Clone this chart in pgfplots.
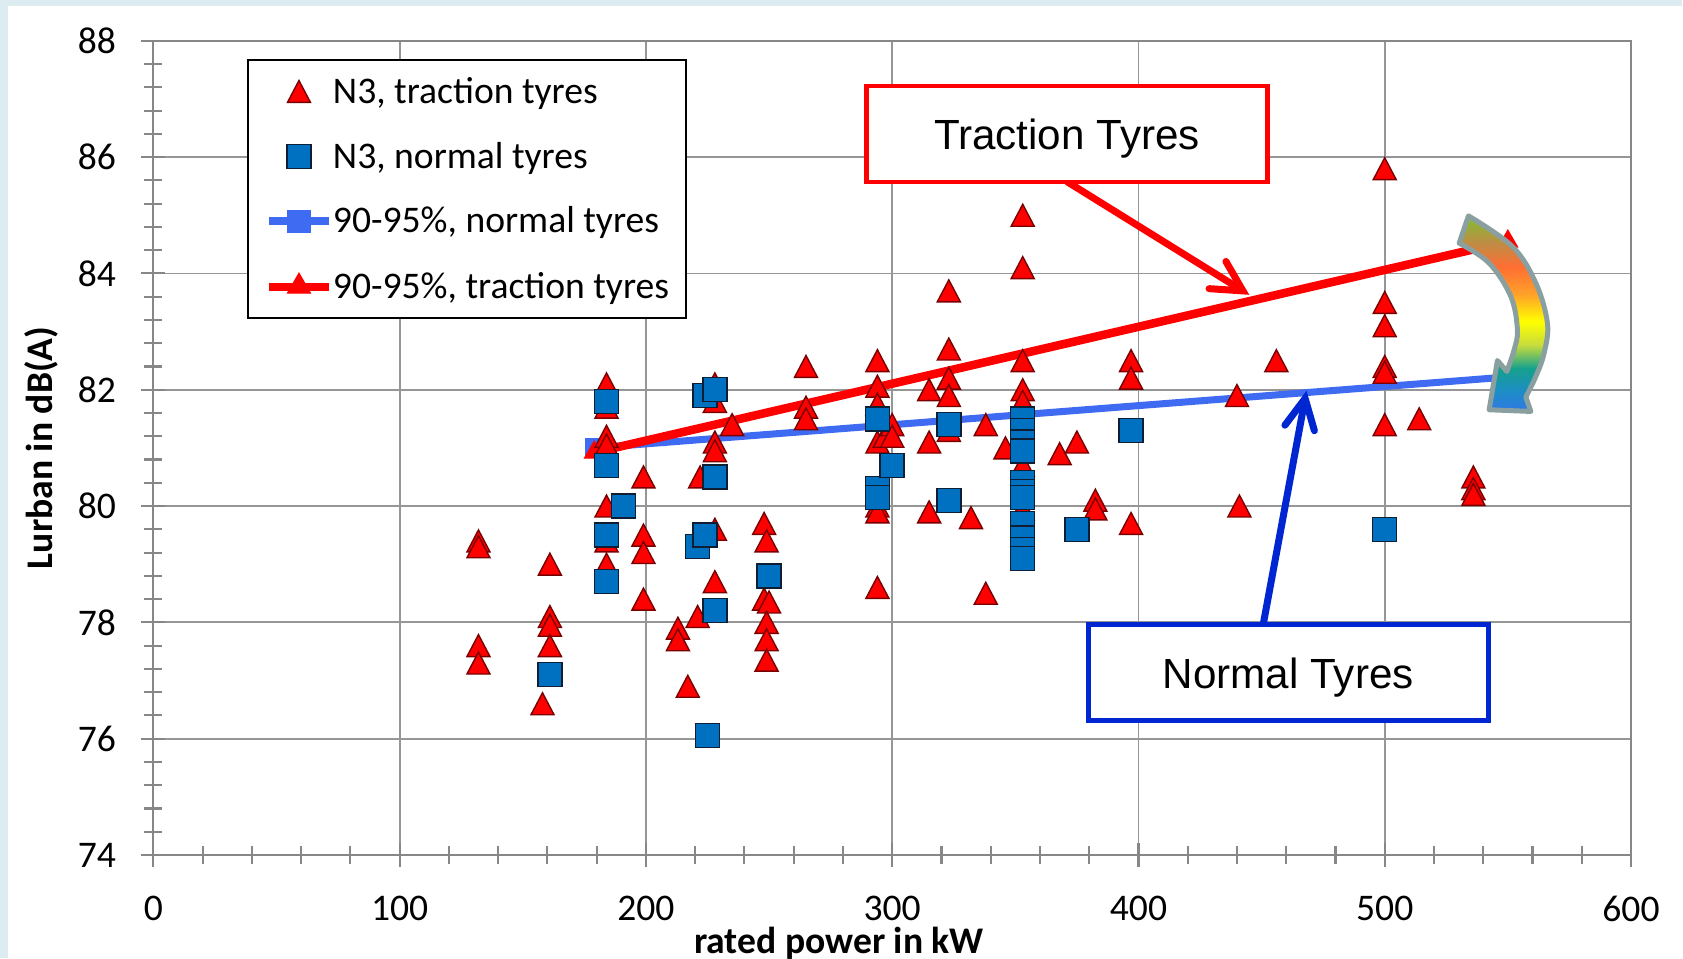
\documentclass[border=0pt]{standalone}
\usepackage{fontspec}
\setmainfont{Carlito}
\newfontfamily\arialf{Liberation Sans}
\usepackage{pgfplots}
\pgfplotsset{compat=1.18}
\usetikzlibrary{arrows.meta}

\definecolor{trfill}{RGB}{255,0,0}
\definecolor{trdraw}{RGB}{120,0,0}
\definecolor{nofill}{RGB}{0,112,192}
\definecolor{nodraw}{RGB}{15,30,50}
\definecolor{bline}{RGB}{62,107,242}
\definecolor{gridc}{RGB}{150,150,150}
\definecolor{axc}{RGB}{135,135,135}
\definecolor{annblue}{RGB}{0,38,210}
\definecolor{arrowedge}{RGB}{138,160,160}
\definecolor{bgband}{RGB}{220,236,241}

\pgfdeclareverticalshading{arrowgrad}{100bp}{
rgb(0bp)=(0.196,0.47,0.9);
rgb(25bp)=(0.196,0.47,0.9);
rgb(30bp)=(0.118,0.55,0.78);
rgb(36bp)=(0.08,0.63,0.55);
rgb(42bp)=(0.78,0.86,0.24);
rgb(48bp)=(1,1,0);
rgb(55bp)=(1,0.63,0.16);
rgb(62bp)=(1,0.43,0.2);
rgb(68bp)=(0.75,0.55,0.27);
rgb(75bp)=(0.5,0.75,0.19);
rgb(100bp)=(0.5,0.75,0.19)}

\newcommand\tf{\fontsize{10.7pt}{12.8pt}\selectfont}

\begin{document}
\begin{tikzpicture}
\path[use as bounding box, fill=white] (-1.534cm,-1.04cm) rectangle (15.296cm,8.55cm);
\begin{scope}[x=0.01cm,y=-0.01cm,shift={(-1.534cm,8.55cm)}]
 \fill[bgband] (0,0) rectangle (1683,6);
 \fill[bgband] (0,0) rectangle (8,959);
\end{scope}

\begin{axis}[
  scale only axis, width=14.776cm, height=8.142cm,
  at={(0,0)}, anchor=south west,
  xmin=0, xmax=600, ymin=74, ymax=88,
  xtick={0,100,...,600}, ytick={74,76,...,88},
  minor x tick num=4, minor y tick num=4,
  tick pos=left,
  xmajorgrids, ymajorgrids,
  major grid style={draw=gridc, line width=0.5pt},
  axis line style={draw=axc, line width=0.6pt},
  tick style={draw=axc, line width=0.6pt},
  tick align=center,
  major tick length=0.24cm, minor tick length=0.18cm,
  ticklabel style={font=\tf, text=black},
  /pgf/number format/assume math mode=true,
  xticklabel shift=0.17cm, yticklabel shift=0.13cm,
  xlabel={rated power in kW}, ylabel={Lurban in dB(A)},
  xlabel style={font=\tf\bfseries, inner sep=0pt, at={(axis description cs:0.464,-0.1085)}, anchor=center},
  ylabel style={font=\tf\bfseries, at={(axis description cs:-0.0758,0.5)}, anchor=center},
  legend style={at={(axis description cs:0.0633,0.9777)}, anchor=north west,
     draw=black, line width=0.6pt, fill=white, font=\tf,
     inner xsep=0.17cm, inner ysep=0.13cm, row sep=0.28cm,
     nodes={inner sep=0pt, text depth=0.07cm, text height=0.30cm},
     /tikz/every even column/.append style={column sep=0.02cm}},
  legend cell align=left,
]
% trend lines (drawn beneath the markers)
\addplot[forget plot, color=bline, line width=0.07cm, mark=square*, mark size=0.09cm,
   mark options={fill=bline, draw=bline, line width=0.4pt}] coordinates {(179,81.0) (550,82.22)};
\addplot[forget plot, color=red, line width=0.085cm, mark=triangle*, mark size=0.11cm,
   mark options={fill=red, draw=red, line width=0.4pt}] coordinates {(179,80.92) (550,84.55)};

\addplot[only marks, mark=triangle*, mark size=0.133cm,
   mark options={fill=trfill, draw=trdraw, line width=0.4pt, yscale=1.1, yshift=-0.033cm}] table {
x y
132 79.4
132 79.3
132 77.6
132 77.3
158 76.6
161 79.0
161 78.1
161 77.95
161 77.6
184 82.1
184 81.7
184 81.2
184 81.05
184 80.0
184 79.4
184 79.0
199 80.5
199 79.5
199 79.2
199 78.4
213 77.9
213 77.7
217 76.9
221 78.1
222 80.5
228 82.1
228 81.8
228 81.1
228 80.95
228 79.6
228 78.7
235 81.4
248 79.7
249 79.4
248 78.4
250 78.35
249 78.0
249 77.7
249 77.35
265 82.4
265 81.7
265 81.5
294 82.5
294 82.06
294 81.75
294 81.1
297 81.2
294 80.0
294 79.9
294 78.6
300 81.4
300 81.2
315 82.0
315 81.1
315 79.9
323 83.7
323 82.7
323 82.2
323 81.9
323 81.3
332 79.8
338 81.4
338 78.5
346 81.0
353 85.0
353 84.1
353 82.5
353 82.0
353 81.8
353 80.7
353 79.95
368 80.9
375 81.1
382.5 80.1
382.5 79.95
397 82.5
397 82.2
397 79.7
440 81.9
441 80.0
456 82.5
500 85.8
500 83.5
500 83.1
500 82.4
500 82.3
500 81.4
514 81.5
536 80.5
536 80.3
536 80.2
};
\addlegendentry{N3, traction tyres}

\addplot[only marks, mark=square*, mark size=0.12cm,
   mark options={fill=nofill, draw=nodraw, line width=0.4pt}] table {
x y
161 77.1
184 81.8
184 80.7
184 79.5
184 78.7
191 80.0
221 79.3
224 79.5
224 81.9
228 82.0
228 80.5
228 78.2
225 76.05
250 78.8
294 81.5
294 80.3
294 80.15
300 80.7
323 81.4
323 80.1
353 81.5
353 81.3
353 81.1
353 80.95
353 80.4
353 80.25
353 80.15
353 79.7
353 79.45
353 79.25
353 79.1
375 79.6
397 81.3
500 79.6
};
\addlegendentry{N3, normal tyres}

\addlegendimage{color=bline, line width=0.08cm, mark=square*, mark size=0.11cm,
   mark options={fill=bline, draw=bline, line width=0.4pt}}
\addlegendentry{90-95\%, normal tyres}
\addlegendimage{color=red, line width=0.08cm, mark=triangle*, mark size=0.13cm,
   mark options={fill=red, draw=red, line width=0.4pt}}
\addlegendentry{90-95\%, traction tyres}
\end{axis}

\begin{scope}[x=0.01cm,y=-0.01cm,shift={(-1.534cm,8.55cm)}]
 % Traction Tyres callout
 \draw[red, line width=0.07cm, line cap=round, -{Straight Barb[length=0.3cm,width=0.32cm,line cap=round]}] (1068,182) -- (1250,295);
 \draw[red, line width=0.045cm, fill=white] (867,86) rectangle (1268,182);
 \node[font=\arialf\fontsize{12pt}{14pt}\selectfont, anchor=base] at (1067.5,150) {Traction Tyres};
 % Normal Tyres callout
 \draw[annblue, line width=0.07cm, line cap=round, -{Straight Barb[length=0.3cm,width=0.3cm,line cap=round]}] (1264,624.5) -- (1307.3,391);
 \draw[annblue, line width=0.05cm, fill=white] (1089,624.5) rectangle (1489,721);
 \node[font=\arialf\fontsize{12pt}{14pt}\selectfont, anchor=base] at (1289,689) {Normal Tyres};
 % curved gradient arrow
 \shadedraw[shading=arrowgrad, draw=arrowedge, line width=0.05cm, line join=round]
   (1469.3,216.0) -- plot[smooth, tension=0.6] coordinates {(1469.3,216.0) (1513.3,246.7) (1536.7,283.3) (1548.3,323.3) (1545.0,353.3) (1536.7,376.7) (1526.7,397.3)}
   -- (1531.7,411.7) -- (1490.0,410.0) -- (1498.3,360.7) -- (1507.7,371.7)
   -- plot[smooth, tension=0.6] coordinates {(1507.7,371.7) (1515.0,350.0) (1518.3,330.0) (1511.7,296.7) (1490.0,263.3) (1460.0,243.3)}
   -- cycle;
\end{scope}
\end{tikzpicture}
\end{document}
